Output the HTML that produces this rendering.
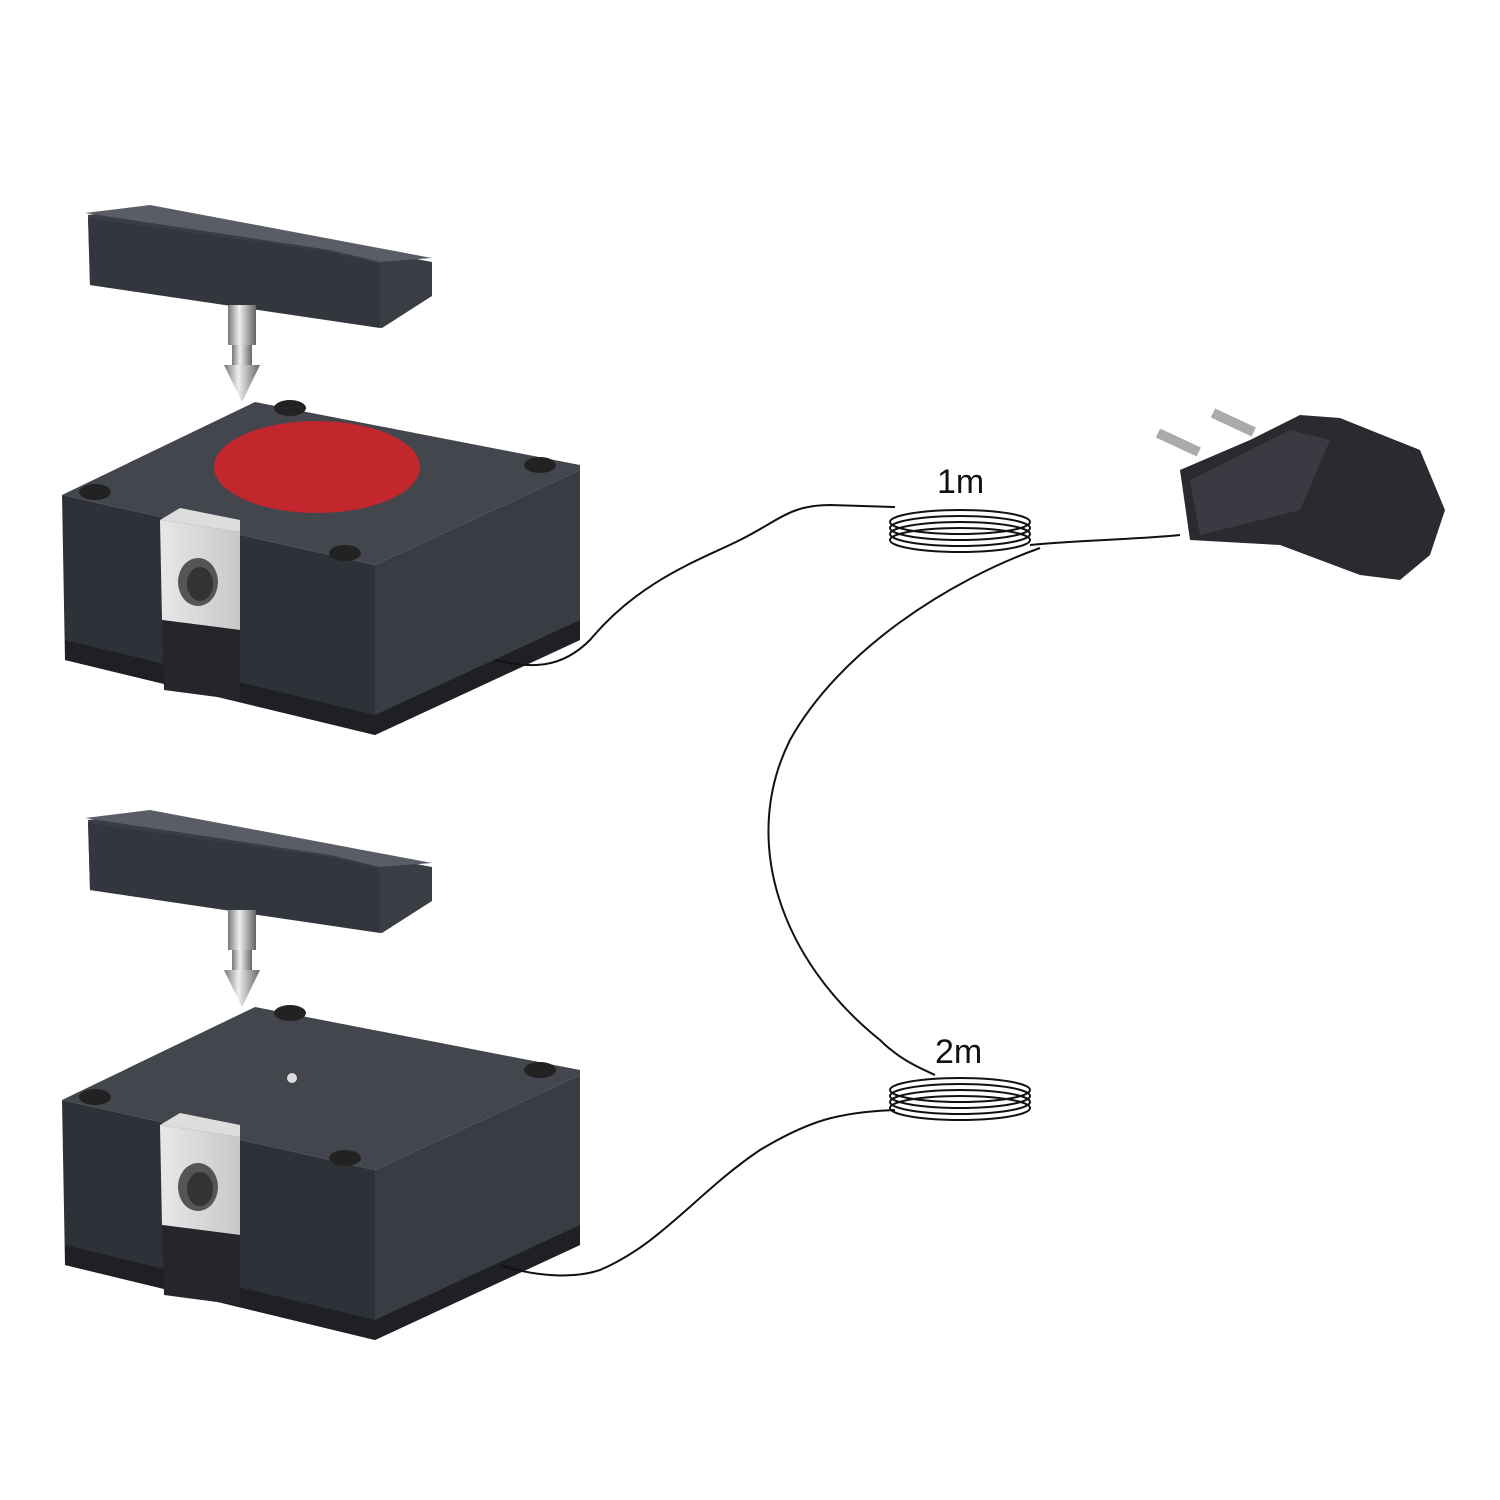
<!DOCTYPE html>
<html><head><meta charset="utf-8"><style>
html,body{margin:0;padding:0;background:#fff;width:1500px;height:1500px;overflow:hidden}
</style></head><body>
<svg width="1500" height="1500" viewBox="0 0 1500 1500" xmlns="http://www.w3.org/2000/svg">
<defs>
<linearGradient id="pin" x1="0" x2="1"><stop offset="0" stop-color="#777"/><stop offset=".4" stop-color="#eee"/><stop offset="1" stop-color="#666"/></linearGradient>
<linearGradient id="metal" x1="0" x2="1"><stop offset="0" stop-color="#e8e8e8"/><stop offset="1" stop-color="#c8c8c8"/></linearGradient>
<g id="unit">
  <polygon points="88,215 150,207 432,262 432,296 382,328 90,285" fill="#3b3d45"/>
  <polygon points="85,213 150,205 432,258 380,262 330,250" fill="#5a5c66"/>
  <polygon points="88,218 330,252 380,264 380,328 90,285" fill="#34363e"/>
  <rect x="228" y="305" width="28" height="40" fill="url(#pin)"/>
  <rect x="232" y="345" width="20" height="20" fill="url(#pin)"/>
  <polygon points="224,365 260,365 242,402" fill="url(#pin)"/>
  <polygon points="62,495 375,565 375,735 65,660" fill="#2f3138"/>
  <polygon points="375,565 580,470 580,640 375,735" fill="#3a3c43"/>
  <polygon points="62,495 255,402 580,465 580,470 375,565" fill="#44464e"/>
  <polygon points="65,640 375,715 580,620 580,640 375,735 65,660" fill="#1f2025"/>
  <ellipse cx="290" cy="408" rx="16" ry="8" fill="#222"/>
  <ellipse cx="540" cy="465" rx="16" ry="8" fill="#222"/>
  <ellipse cx="95" cy="492" rx="16" ry="8" fill="#222"/>
  <ellipse cx="345" cy="553" rx="16" ry="8" fill="#222"/>
  <polygon points="160,520 180,508 240,520 240,532 160,520" fill="#ddd"/>
  <polygon points="160,520 240,532 240,630 162,620" fill="url(#metal)"/>
  <ellipse cx="198" cy="582" rx="20" ry="24" fill="#555"/>
  <ellipse cx="200" cy="584" rx="13" ry="17" fill="#333"/>
  <polygon points="162,620 240,630 240,700 164,690" fill="#25262b"/>
</g>
</defs>

<use href="#unit"/>
<use href="#unit" transform="translate(0,605)"/>
<ellipse cx="317" cy="467" rx="103" ry="46" fill="#c1272d"/>
<circle cx="292" cy="1078" r="5" fill="#ddd"/>

<g fill="none" stroke="#111" stroke-width="2">
  <path d="M495,660 C530,668 560,670 590,640 C640,580 700,560 740,540 C780,520 790,505 830,505 L895,507"/>
  <path d="M1030,545 C1080,540 1130,540 1180,535"/>
  <path d="M1040,548 C950,580 840,650 790,740 C740,840 780,960 880,1040 C900,1060 920,1068 935,1075"/>
  <path d="M500,1265 C530,1275 570,1280 600,1270 C660,1245 700,1190 760,1150 C810,1120 840,1112 895,1110"/>
</g>
<g fill="none" stroke="#111" stroke-width="2">
  <ellipse cx="960" cy="522" rx="70" ry="12"/>
  <ellipse cx="960" cy="528" rx="70" ry="12"/>
  <ellipse cx="960" cy="534" rx="70" ry="12"/>
  <ellipse cx="960" cy="540" rx="70" ry="12"/>
  <ellipse cx="960" cy="1090" rx="70" ry="12"/>
  <ellipse cx="960" cy="1096" rx="70" ry="12"/>
  <ellipse cx="960" cy="1102" rx="70" ry="12"/>
  <ellipse cx="960" cy="1108" rx="70" ry="12"/>
</g>
<text x="937" y="493" font-family="Liberation Sans, sans-serif" font-size="34" fill="#111">1m</text>
<text x="935" y="1063" font-family="Liberation Sans, sans-serif" font-size="34" fill="#111">2m</text>

<rect x="1158" y="428" width="45" height="10" fill="#aaa" transform="rotate(25 1158 433)"/>
<rect x="1213" y="408" width="45" height="10" fill="#aaa" transform="rotate(25 1213 413)"/>
<polygon points="1180,470 1250,440 1300,415 1340,418 1420,450 1445,510 1430,555 1400,580 1360,575 1280,545 1190,540" fill="#2a2b31"/>
<polygon points="1190,480 1290,430 1330,440 1300,510 1200,535" fill="#3a3b42"/>
</svg>
</body></html>
